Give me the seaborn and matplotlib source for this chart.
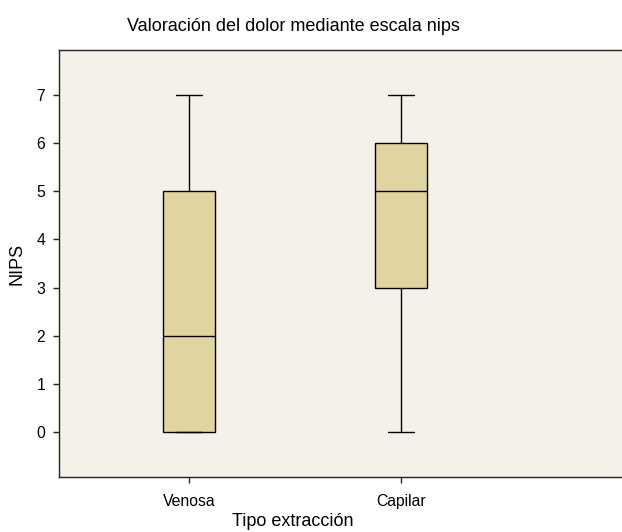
import seaborn as sns
import pandas as pd
import matplotlib.pyplot as plt

# NIPS scores (min, Q1, median, Q3, max per group)
venosa = [0, 0, 2, 5, 7]
capilar = [0, 3, 5, 6, 7]
groups = ["Venosa", "Capilar"]
y_ticks = [0, 1, 2, 3, 4, 5, 6, 7]

nips_df = pd.DataFrame({
    "Tipo extracción": [groups[0]] * len(venosa) + [groups[1]] * len(capilar),
    "NIPS": venosa + capilar,
})

sns.set_style("ticks")
plt.rcParams["font.family"] = ["Liberation Sans", "DejaVu Sans"]
plt.rcParams["text.color"] = "black"
plt.rcParams["axes.labelcolor"] = "black"

fig = plt.figure(figsize=(6.22, 5.32), dpi=100)
# axes run past the right edge of the figure, as in the cropped original
ax_w = 1.0
ax = fig.add_axes([0.0949, 0.1034, ax_w, 0.8026])
ax.set_facecolor("#F4F1EA")

line_kw = dict(color="black", linewidth=1)
sns.boxplot(x="Tipo extracción", y="NIPS", data=nips_df, order=groups,
            color="#E0D5A0", width=0.245, whis=1.5, saturation=1,
            linecolor="black", linewidth=1,
            boxprops=dict(edgecolor="black", linewidth=1),
            whiskerprops=line_kw, capprops=line_kw, medianprops=line_kw,
            showfliers=False, ax=ax)

px_w = ax_w * 622
ax.set_xlim(-0.613, -0.613 + px_w / 212)
ax.set_ylim(-0.93, 7.93)
ax.set_yticks(y_ticks)
ax.tick_params(axis="both", direction="out", length=4, width=1, color="#222222",
               labelsize=11.3, labelcolor="black")
ax.tick_params(axis="x", pad=8)
ax.tick_params(axis="y", pad=6)

for side in ["left", "top", "bottom"]:
    ax.spines[side].set_color("#222222")
    ax.spines[side].set_linewidth(1)
ax.spines["right"].set_visible(False)

title_x = (293 - 59) / px_w
ax.set_title("Valoración del dolor mediante escala nips", fontsize=13, x=title_x, pad=14)
ax.set_xlabel("Tipo extracción", fontsize=13)
ax.xaxis.set_label_coords(title_x, -0.084)
ax.set_ylabel("NIPS", fontsize=13)
ax.yaxis.set_label_coords(-(59 - 25) / px_w, 0.5)

fig.savefig("out.png", dpi=100)
